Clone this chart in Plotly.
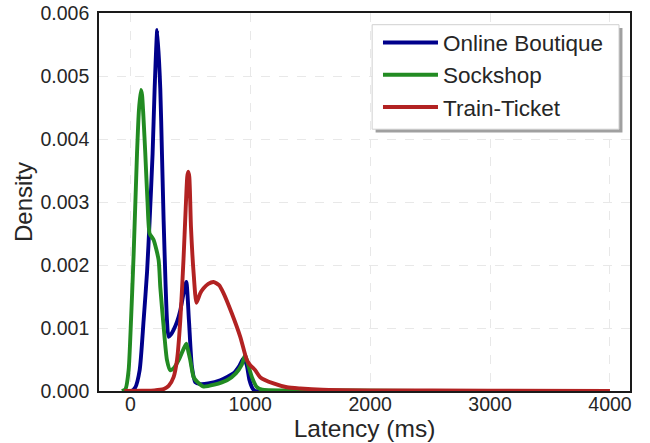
import plotly.graph_objects as go

# ---- data ----
ob_x = [-60, 10, 40, 78, 111, 140, 161, 186, 203, 225, 250, 264, 278, 294, 306, 319, 340, 361, 390,
        417, 444, 467, 489, 514, 542, 583, 650, 750, 861, 910, 944, 970, 994, 1020, 1042, 1100, 1150]
ob_y = [0, 0, 0.00005, 0.00033, 0.00112, 0.0019, 0.0027, 0.00377, 0.0048, 0.00573, 0.0048, 0.00377,
        0.0027, 0.0017, 0.00112, 0.00086, 0.0009, 0.00097, 0.0011, 0.00128, 0.00155, 0.00173, 0.00112,
        0.00038, 0.00014, 0.00011, 0.00012, 0.00017, 0.00028, 0.0004, 0.000515, 0.00042, 0.00017,
        0.00004, 0.0, 0.0, 0.0]

ss_x = [-70, -40, -14, 6, 28, 56, 72, 89, 98, 111, 125, 144, 161, 194, 236, 250, 278, 306, 333, 361,
        403, 440, 467, 485, 500, 528, 561, 611, 700, 806, 880, 930, 958, 985, 1014, 1056, 1100, 1300,
        1800, 2400]
ss_y = [0, 0.00003, 0.00033, 0.00112, 0.00218, 0.00377, 0.00446, 0.00478, 0.0047, 0.0043, 0.00377,
        0.00298, 0.0025, 0.0024, 0.00208, 0.00165, 0.00102, 0.00049, 0.00033, 0.00036, 0.00049,
        0.00065, 0.00075, 0.00062, 0.00049, 0.00022, 0.00014, 0.00007, 0.0001, 0.00017, 0.00028,
        0.00042, 0.00057, 0.0004, 0.00022, 0.00006, 0.00002, 0.00001, 0.00001, 0]

tt_x = [-50, 100, 200, 278, 320, 361, 390, 417, 444, 462, 475, 483, 492, 506, 528, 552, 583, 611, 650,
        694, 740, 778, 847, 917, 972, 1000, 1042, 1083, 1194, 1306, 1417, 1600, 2000, 3000, 4000]
tt_y = [0, 0.000005, 0.00001, 0.00003, 0.00008, 0.00022, 0.0005, 0.00112, 0.0021, 0.0029, 0.0034,
        0.00348, 0.0034, 0.0026, 0.00187, 0.0014, 0.00155, 0.00163, 0.0017, 0.00173, 0.00168, 0.00155,
        0.00123, 0.00086, 0.00049, 0.00041, 0.00033, 0.00022, 0.00012, 0.00006, 0.00004, 0.00002,
        0.00001, 0.000005, 0]

series = [
    ("Online Boutique", ob_x, ob_y, "#00008B"),
    ("Sockshop", ss_x, ss_y, "#228B22"),
    ("Train-Ticket", tt_x, tt_y, "#B22222"),
]

x_ticks = [0, 1000, 2000, 3000, 4000]
y_ticks = [0.000, 0.001, 0.002, 0.003, 0.004, 0.005, 0.006]

FONT = "Liberation Sans, Arial, sans-serif"
TXT = "#262626"

fig = go.Figure()
for name, xs, ys, col in series:
    fig.add_trace(go.Scatter(
        x=xs, y=ys, mode="lines", name=name,
        line=dict(color=col, width=3.9, shape="spline", smoothing=0.6),
    ))

# legend frame + shadow (paper coordinates)
LX0, LX1, LY0, LY1 = 0.5144, 0.9793, 0.6926, 0.969
DX, DY = 0.0065, 0.009
fig.add_shape(type="rect", xref="paper", yref="paper", layer="above",
              x0=LX0 + DX, x1=LX1 + DX, y0=LY0 - DY, y1=LY1 - DY,
              fillcolor="#a0a0a0", line=dict(width=0))
fig.add_shape(type="rect", xref="paper", yref="paper", layer="above",
              x0=LX0, x1=LX1, y0=LY0, y1=LY1,
              fillcolor="white", line=dict(width=1, color="#d0d0d0"))

fig.update_layout(
    width=650, height=443,
    margin=dict(l=99, r=20, t=13, b=52),
    paper_bgcolor="white", plot_bgcolor="white",
    font=dict(family=FONT, color=TXT, size=20),
    showlegend=True,
    legend=dict(
        x=LX0 + 0.011, y=LY1 + 0.009, xanchor="left", yanchor="top",
        bgcolor="rgba(0,0,0,0)", borderwidth=0, itemwidth=55,
        font=dict(size=22.5, family=FONT, color=TXT),
        tracegroupgap=0, traceorder="normal",
    ),
    xaxis=dict(
        range=[-261, 4167], tickvals=x_ticks, ticktext=[str(v) for v in x_ticks],
        showgrid=True, gridcolor="#e8e8e8", griddash="dash", gridwidth=1,
        zeroline=False, showline=True, linecolor="#1a1a1a", linewidth=1.6, mirror=True,
        ticks="", ticklabelstandoff=-5,
        tickfont=dict(size=19.5, color=TXT),
        title=dict(text="Latency (ms)", font=dict(size=24.5, color=TXT), standoff=5),
        automargin=False,
    ),
    yaxis=dict(
        range=[0, 0.006], tickvals=y_ticks, tickformat=".3f",
        showgrid=True, gridcolor="#e8e8e8", griddash="dash", gridwidth=1,
        zeroline=False, showline=True, linecolor="#1a1a1a", linewidth=1.6, mirror=True,
        ticks="outside", ticklen=4, tickcolor="rgba(0,0,0,0)",
        tickfont=dict(size=19.5, color=TXT),
        title=dict(text="Density", font=dict(size=24, color=TXT), standoff=1),
        automargin=False,
    ),
)

fig.write_html("out.html", post_script="document.body.style.margin='0';",
               config={"displayModeBar": False})
